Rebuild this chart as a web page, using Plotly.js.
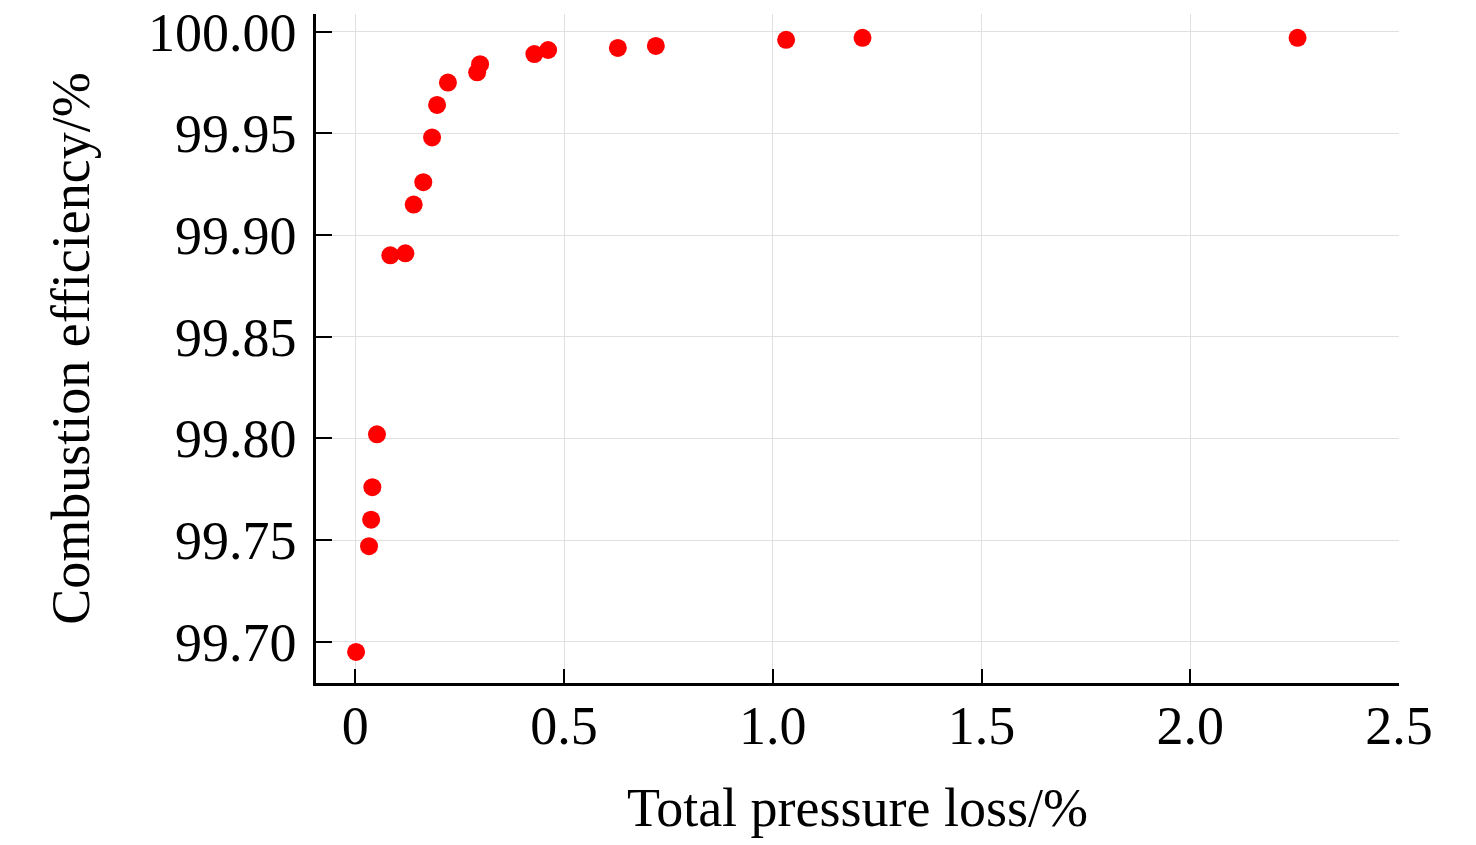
<!DOCTYPE html>
<html>
<head>
<meta charset="utf-8">
<script src="https://cdn.plot.ly/plotly-3.0.1.min.js"></script>
<style>
html,body{margin:0;padding:0;background:#fff;}
#chart{width:1476px;height:845px;}
</style>
</head>
<body>
<div id="chart"></div>
<script>
// Total pressure loss (%)
var pressureLoss = [0.002, 0.033, 0.038, 0.041, 0.052, 0.084, 0.120, 0.140, 0.163, 0.184, 0.196,
  0.222, 0.292, 0.299, 0.429, 0.462, 0.629, 0.720, 1.032, 1.215, 2.257];
// Combustion efficiency (%)
var combustionEfficiency = [99.695, 99.747, 99.760, 99.776, 99.802, 99.890, 99.891, 99.915, 99.926, 99.948, 99.964,
  99.975, 99.980, 99.984, 99.989, 99.991, 99.992, 99.993, 99.996, 99.997, 99.997];

var xTickVals = [0, 0.5, 1.0, 1.5, 2.0, 2.5];
var xTickText = ["0", "0.5", "1.0", "1.5", "2.0", "2.5"];
var yTickVals = [99.70, 99.75, 99.80, 99.85, 99.90, 99.95, 100.00];
var yTickText = ["99.70", "99.75", "99.80", "99.85", "99.90", "99.95", "100.00"];

var FONT = "'Liberation Serif', 'Times New Roman', serif";

var trace = {
  x: pressureLoss,
  y: combustionEfficiency,
  type: 'scatter',
  mode: 'markers',
  marker: {color: '#ff0000', size: 18, line: {width: 0}},
  hoverinfo: 'x+y'
};

var layout = {
  width: 1476,
  height: 845,
  margin: {l: 316, r: 77, t: 14, b: 162},
  paper_bgcolor: '#ffffff',
  plot_bgcolor: '#ffffff',
  showlegend: false,
  font: {family: FONT, color: '#000000', size: 54},
  xaxis: {
    range: [-0.094, 2.5],
    tickvals: xTickVals,
    ticktext: xTickText,
    ticks: 'inside',
    ticklen: 14,
    tickwidth: 2,
    tickcolor: '#000',
    showline: true,
    linecolor: '#000',
    linewidth: 2.5,
    showgrid: true,
    gridcolor: '#e0e0e0',
    gridwidth: 1,
    zeroline: false,
    tickfont: {family: FONT, size: 54, color: '#000'},
    ticklabelstandoff: -7,
    title: {text: 'Total pressure loss/%', font: {family: FONT, size: 54, color: '#000'}, standoff: 34},
    automargin: false
  },
  yaxis: {
    range: [99.6797, 100.0087],
    tickvals: yTickVals,
    ticktext: yTickText,
    ticks: 'inside',
    ticklen: 16,
    tickwidth: 2,
    tickcolor: '#000',
    showline: true,
    linecolor: '#000',
    linewidth: 2.5,
    showgrid: true,
    gridcolor: '#e0e0e0',
    gridwidth: 1,
    zeroline: false,
    tickfont: {family: FONT, size: 54, color: '#000'},
    ticklabelstandoff: 6,
    title: {text: 'Combustion efficiency/%', font: {family: FONT, size: 54, color: '#000'}, standoff: 42},
    automargin: false
  }
};

Plotly.newPlot('chart', [trace], layout, {displayModeBar: false, staticPlot: false});
</script>
</body>
</html>
